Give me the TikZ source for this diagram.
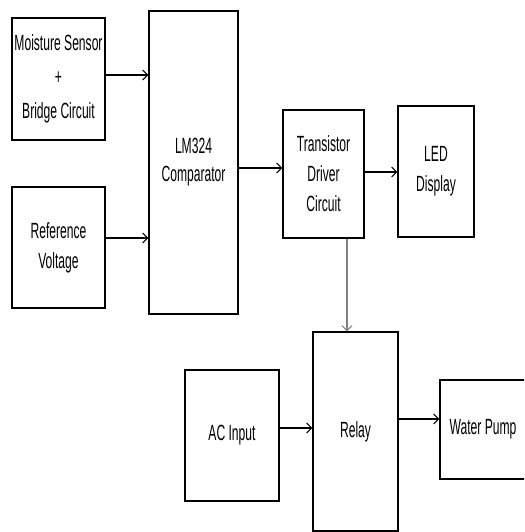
\documentclass[tikz,border=0pt]{standalone}
\usepackage{fontspec}
\setmainfont{Liberation Sans}[FakeStretch=0.55]
\usetikzlibrary{arrows.meta}
\begin{document}
\begin{tikzpicture}[x=1pt,y=-1pt,
	every node/.style={font=\fontsize{22}{30}\selectfont,align=center},
	block/.style={draw,line width=1.2pt,inner sep=0pt},
	link/.style={line width=1.2pt,-{Straight Barb[length=5pt,width=10pt,line width=1pt]}}]
	\useasboundingbox (0,0) rectangle (524,532);
	\clip (0,0) rectangle (524,532);
	\node[block,minimum width=93,minimum height=122,font=\fontsize{22}{34}\selectfont] (sensor) at (58.5,79) {Moisture Sensor\\+\\Bridge Circuit};
	\node[block,minimum width=93,minimum height=121] (refv) at (58.5,247.5) {Reference\\Voltage};
	\node[block,minimum width=89,minimum height=303,font=\fontsize{22}{28}\selectfont] (comp) at (193.5,162.5) {LM324\\Comparator};
	\node[block,minimum width=81,minimum height=128] (driver) at (323.5,174) {Transistor\\Driver\\Circuit};
	\node[block,minimum width=76,minimum height=131] (led) at (436,171.5) {LED\\Display};
	\node[block,minimum width=85,minimum height=199] (relay) at (355.5,431.5) {Relay};
	\node[block,minimum width=94,minimum height=131] (acin) at (232,435.5) {AC Input};
	\node[block,minimum width=86,minimum height=99] (pump) at (483,429.5) {Water Pump};
	\draw[link] ([yshift=4pt]sensor.east) -- ([yshift=4pt]sensor.east -| comp.west);
	\draw[link] ([yshift=9.5pt]refv.east) -- ([yshift=9.5pt]refv.east -| comp.west);
	\draw[link] ([yshift=6pt]driver.west -| comp.east) -- ([yshift=6pt]driver.west);
	\draw[link] ([yshift=2pt]driver.east) -- ([yshift=2pt]driver.east -| led.west);
	\draw[link,gray] ([xshift=23.5pt]driver.south) -- ([xshift=23.5pt]driver.south |- relay.north);
	\draw[link] ([yshift=7.5pt]acin.east) -- ([yshift=7.5pt]acin.east -| relay.west);
	\draw[link] ([yshift=12.5pt]relay.east) -- ([yshift=12.5pt]relay.east -| pump.west);
\end{tikzpicture}
\end{document}
